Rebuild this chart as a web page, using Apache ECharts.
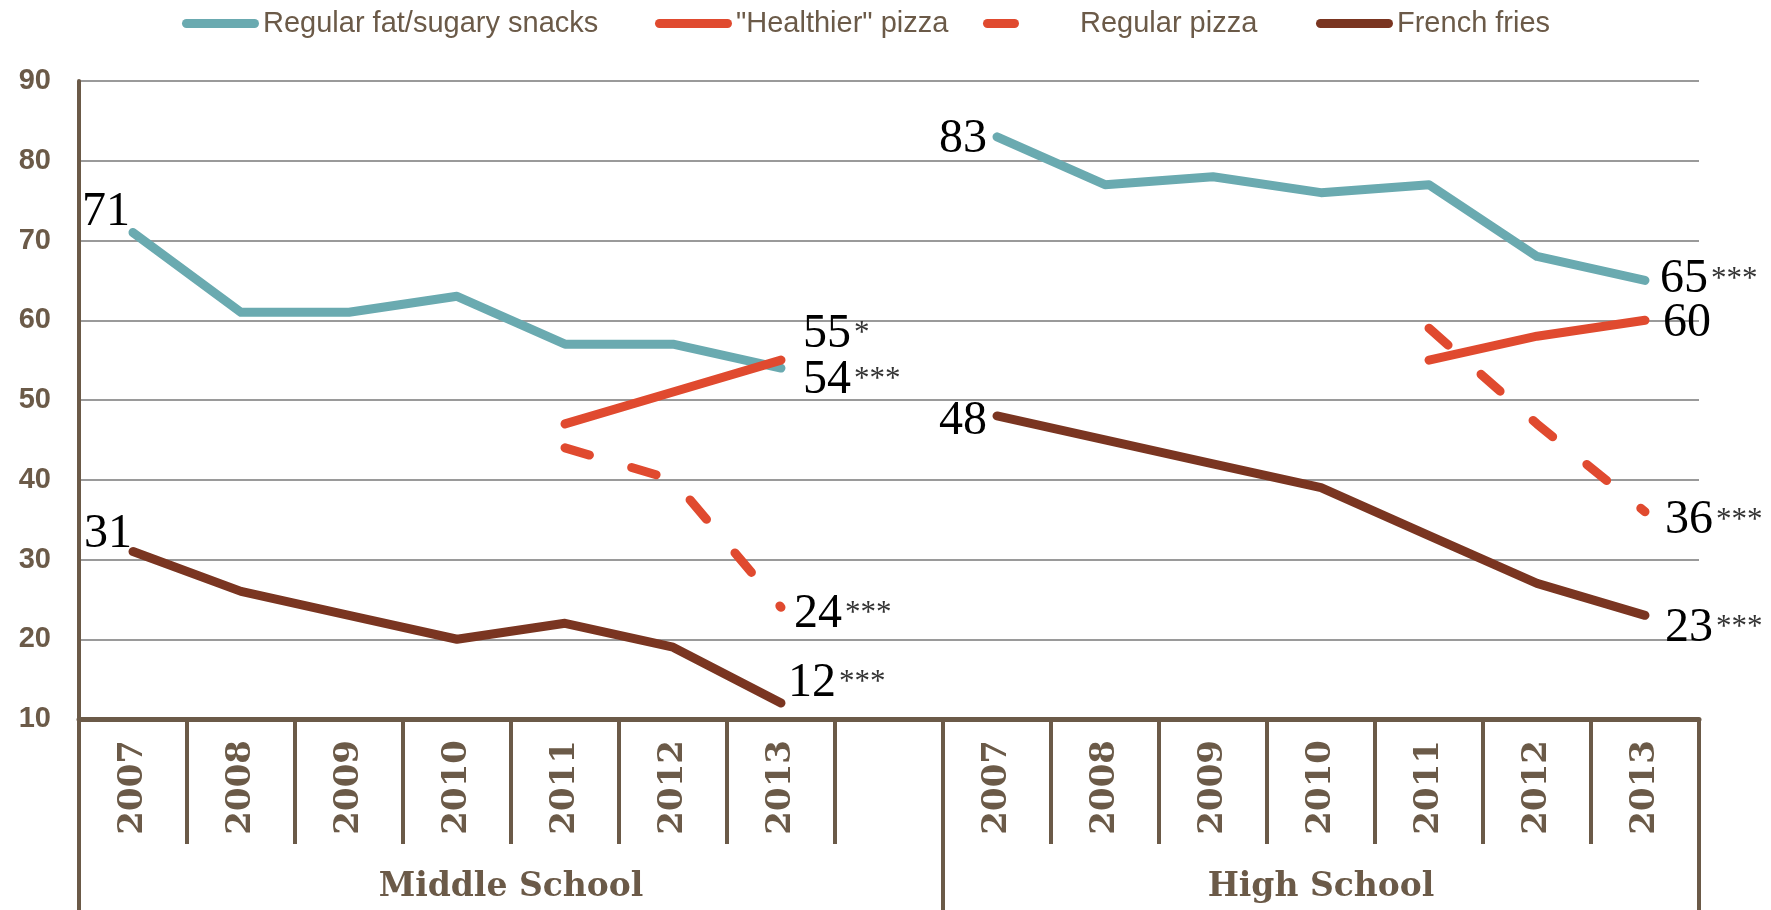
<!DOCTYPE html>
<html><head><meta charset="utf-8">
<script src="https://cdn.jsdelivr.net/npm/echarts@6/dist/echarts.min.js"></script>
<style>html,body{margin:0;padding:0;background:#fff}#c{width:1771px;height:910px}</style>
</head><body><div id="c"></div>
<script>
// ---- data ----
const years = ['2007','2008','2009','2010','2011','2012','2013'];
const groups = ['Middle School','High School'];
const seriesNames = ['Regular fat/sugary snacks','"Healthier" pizza','Regular pizza','French fries'];
const msSnacks  = [71,61,61,63,57,57,54];
const hsSnacks  = [83,77,78,76,77,68,65];
const msHealthy = [null,null,null,null,47,51,55];
const hsHealthy = [null,null,null,null,55,58,60];
const msRegular = [null,null,null,null,44,40,24];
const hsRegular = [null,null,null,null,59,47,36];
const msFries   = [31,26,23,20,22,19,12];
const hsFries   = [48,45,42,39,33,27,23];
const msSig = ['***','*','***','***'];
const hsSig = ['***','','***','***'];
const showStartLabel = [true,false,false,true];

// ---- styles ----
const BROWN = '#6B5A48';
const colors = ['#6AAAB0','#E04A2F','#E04A2F','#7A3521'];
const categories = years.concat([''], years);
const msData = [msSnacks, msHealthy, msRegular, msFries];
const hsData = [hsSnacks, hsHealthy, hsRegular, hsFries];

// label placement styles (not data)
const startStyle = {
  ms: [{distance:3, offset:[0,-20]}, null, null, {distance:1, offset:[0,-17]}],
  hs: [{distance:10, offset:[0,3]}, null, null, {distance:10, offset:[0,5]}]
};
const endStyle = {
  ms: [{distance:22, offset:[0,12]}, {distance:22, offset:[0,-26]}, {distance:13, offset:[0,7]}, {distance:7, offset:[0,-20]}],
  hs: [{distance:15, offset:[0,-1]}, {distance:18, offset:[0,3]}, {distance:20, offset:[0,9]}, {distance:20, offset:[0,13]}]
};
const rich = {
  n: {fontFamily:'Liberation Serif', fontSize:48, color:'#000'},
  s: {fontFamily:'Liberation Serif', fontSize:31, color:'#333', padding:[0,0,0,3]}
};

function buildSeries(k){
  const vals = msData[k].concat([null], hsData[k]);
  const data = vals.map(v => ({value: v}));
  const addLabel = (idx, st, pos, sig) => {
    data[idx].label = {
      show: true, position: pos, distance: st.distance, offset: st.offset,
      formatter: sig ? '{n|{c}}{s|' + sig + '}' : '{n|{c}}', rich: rich
    };
  };
  if (showStartLabel[k]) {
    addLabel(0, startStyle.ms[k], 'left', '');
    addLabel(8, startStyle.hs[k], 'left', '');
  }
  addLabel(6, endStyle.ms[k], 'right', msSig[k]);
  addLabel(14, endStyle.hs[k], 'right', hsSig[k]);
  return {
    name: seriesNames[k], type: 'line', data: data, connectNulls: false,
    symbol: 'circle', symbolSize: 0.01, showSymbol: true,
    color: colors[k], itemStyle: {color: colors[k]},
    lineStyle: {width: 9, color: colors[k], cap: 'round', join: 'round',
      type: k === 2 ? [25.5, 44] : 'solid'},
    emphasis: {disabled: true}, silent: true, z: 3 + (k===1?1:0)
  };
}

const cap77 = 'path://M4.5,0 H72.5 A4.5,4.5 0 0 1 72.5,9 H4.5 A4.5,4.5 0 0 1 4.5,0 Z';
const cap36 = 'path://M4.5,0 H31.5 A4.5,4.5 0 0 1 31.5,9 H4.5 A4.5,4.5 0 0 1 4.5,0 Z';
const legTxt = {fontFamily:'Liberation Sans', fontSize:29, color: BROWN};
const legendLefts = [182, 655, 983, 1316];
const legends = seriesNames.map((n, k) => ({
  data: [n], left: legendLefts[k], top: 9, orient: 'horizontal',
  itemWidth: k === 2 ? 36 : 77, itemHeight: 9, icon: k === 2 ? cap36 : cap77,
  selectedMode: false, padding: 0,
  itemStyle: {color: colors[k], borderWidth: 0},
  textStyle: Object.assign({}, legTxt, k === 2 ? {padding: [0,0,0,56]} : {padding:[0,0,0,-1]})
}));

const chart = echarts.init(document.getElementById('c'), null, {renderer: 'canvas'});
chart.setOption({
  animation: false,
  backgroundColor: '#fff',
  legend: legends,
  grid: {left: 79, right: 72, top: 81, bottom: 191, containLabel: false},
  xAxis: [{
    type: 'category', data: categories, boundaryGap: true, position: 'bottom',
    axisLine: {show: true, lineStyle: {color: BROWN, width: 5}},
    axisTick: {show: true, interval: 0, length: 125, lineStyle: {color: BROWN, width: 4}},
    axisLabel: {show: true, interval: 0, rotate: 90, margin: 21,
      fontFamily: 'DejaVu Serif', fontWeight: 'bold', fontSize: 34, color: BROWN},
    splitLine: {show: false}
  }, {
    type: 'category', data: categories, boundaryGap: true, position: 'bottom',
    axisLine: {show: false},
    axisTick: {show: true, interval: (i) => i === 0 || i === 8, length: 191,
      lineStyle: {color: BROWN, width: 4}},
    axisLabel: {show: false}, splitLine: {show: false}
  }],
  yAxis: {
    type: 'value', min: 10, max: 90, interval: 10,
    axisLine: {show: true, lineStyle: {color: BROWN, width: 4}},
    axisTick: {show: false},
    axisLabel: {margin: 28, fontFamily: 'Liberation Sans', fontWeight: 'bold', fontSize: 29, color: BROWN},
    splitLine: {show: true, lineStyle: {color: '#9A9A9A', width: 2}}
  },
  series: [0,1,2,3].map(buildSeries)
});

// group labels (positions from the axis scale)
const p = i => chart.convertToPixel({xAxisIndex: 0}, i);
const msX = (p(3) + p(4)) / 2;
const hsX = p(11);
chart.setOption({
  graphic: groups.map((g, i) => ({
    type: 'text', x: i === 0 ? msX : hsX, y: 887,
    style: {text: g, fontFamily: 'DejaVu Serif', fontWeight: 'bold', fontSize: 33,
      fill: BROWN, align: 'center', verticalAlign: 'middle'}
  }))
});
</script>
</body></html>
